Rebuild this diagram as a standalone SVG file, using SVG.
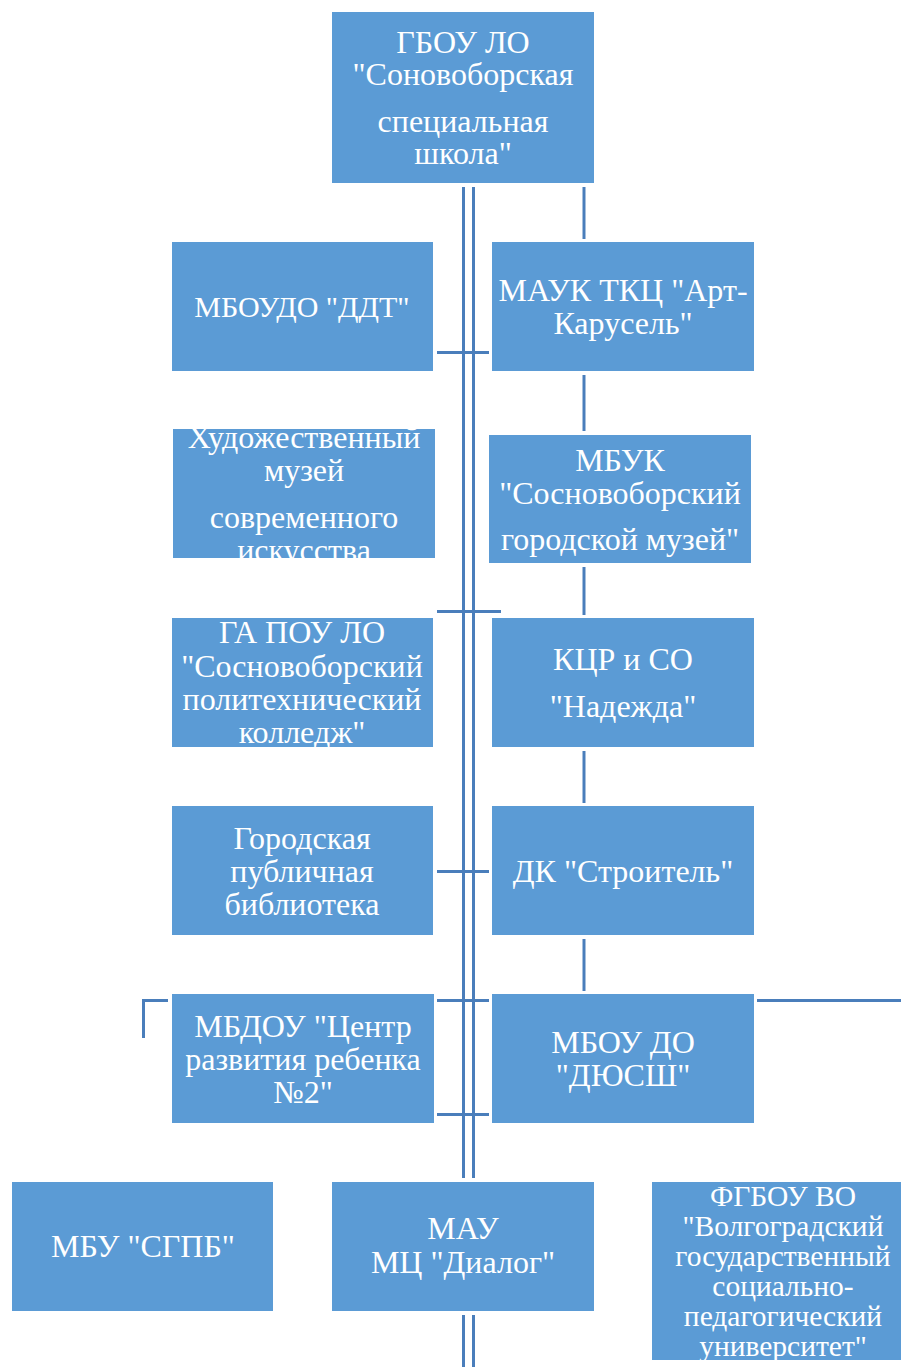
<svg xmlns="http://www.w3.org/2000/svg" width="901" height="1367" viewBox="0 0 901 1367">
<style>
.box{fill:#5B9BD5;}
.t{font-family:'Liberation Serif','DejaVu Serif',serif;font-size:32px;fill:#ffffff;text-anchor:middle;}
.m{font-size:30px;}
.s{font-size:29.5px;}
.ln{stroke:#4A7EBB;stroke-width:3;fill:none;}
</style>
<rect width="901" height="1367" fill="#ffffff"/>
<g id="connectors">
<line class="ln" x1="463.5" y1="187" x2="463.5" y2="1178"/>
<line class="ln" x1="473.5" y1="187" x2="473.5" y2="1178"/>
<line class="ln" x1="463.5" y1="1315" x2="463.5" y2="1367"/>
<line class="ln" x1="473.5" y1="1315" x2="473.5" y2="1367"/>
<line class="ln" x1="584" y1="187" x2="584" y2="239"/>
<line class="ln" x1="584" y1="375" x2="584" y2="431"/>
<line class="ln" x1="584" y1="567" x2="584" y2="615"/>
<line class="ln" x1="584" y1="751" x2="584" y2="803"/>
<line class="ln" x1="584" y1="939" x2="584" y2="991"/>
<line class="ln" x1="437" y1="352.5" x2="489" y2="352.5"/>
<line class="ln" x1="437" y1="611.5" x2="501" y2="611.5"/>
<line class="ln" x1="437" y1="871.5" x2="489" y2="871.5"/>
<line class="ln" x1="437" y1="1000.5" x2="489" y2="1000.5"/>
<line class="ln" x1="437" y1="1114.5" x2="489" y2="1114.5"/>
<polyline class="ln" points="143.5,1038 143.5,1000.5 168,1000.5"/>
<line class="ln" x1="757" y1="1000.5" x2="901" y2="1000.5"/>
</g>
<g id="n1"><rect class="box" x="332" y="12" width="262" height="171"/>
<text class="t" x="463" y="53">ГБОУ ЛО</text><text class="t" x="463" y="85">"Соновоборская</text><text class="t" x="463" y="132">специальная</text><text class="t" x="463" y="164">школа"</text></g>
<g id="n2"><rect class="box" x="172" y="242" width="261" height="129"/>
<text class="t m" x="302" y="317">МБОУДО "ДДТ"</text></g>
<g id="n3"><rect class="box" x="492" y="242" width="262" height="129"/>
<text class="t" x="623" y="301">МАУК ТКЦ "Арт-</text><text class="t" x="623" y="334">Карусель"</text></g>
<g id="n4"><rect class="box" x="173" y="429" width="262" height="129"/>
<text class="t" x="304" y="448">Художественный</text><text class="t" x="304" y="481">музей</text><text class="t" x="304" y="528">современного</text><text class="t" x="304" y="561">искусства</text></g>
<g id="n5"><rect class="box" x="489" y="435" width="262" height="128"/>
<text class="t" x="620" y="471">МБУК</text><text class="t" x="620" y="504">"Сосновоборский</text><text class="t" x="620" y="550">городской музей"</text></g>
<g id="n6"><rect class="box" x="172" y="618" width="261" height="129"/>
<text class="t" x="302" y="643">ГА ПОУ ЛО</text><text class="t" x="302" y="677">"Сосновоборский</text><text class="t" x="302" y="710">политехнический</text><text class="t" x="302" y="743">колледж"</text></g>
<g id="n7"><rect class="box" x="492" y="618" width="262" height="129"/>
<text class="t" x="623" y="670">КЦР и СО</text><text class="t" x="623" y="717">"Надежда"</text></g>
<g id="n8"><rect class="box" x="172" y="806" width="261" height="129"/>
<text class="t" x="302" y="849">Городская</text><text class="t" x="302" y="882">публичная</text><text class="t" x="302" y="915">библиотека</text></g>
<g id="n9"><rect class="box" x="492" y="806" width="262" height="129"/>
<text class="t" x="623" y="882">ДК "Строитель"</text></g>
<g id="n10"><rect class="box" x="172" y="994" width="262" height="129"/>
<text class="t" x="303" y="1037">МБДОУ "Центр</text><text class="t" x="303" y="1070">развития ребенка</text><text class="t" x="303" y="1103">№2"</text></g>
<g id="n11"><rect class="box" x="492" y="994" width="262" height="129"/>
<text class="t" x="623" y="1053">МБОУ ДО</text><text class="t" x="623" y="1086">"ДЮСШ"</text></g>
<g id="n12"><rect class="box" x="12" y="1182" width="261" height="129"/>
<text class="t" x="143" y="1257">МБУ "СГПБ"</text></g>
<g id="n13"><rect class="box" x="332" y="1182" width="262" height="129"/>
<text class="t" x="463" y="1239">МАУ</text><text class="t" x="463" y="1273">МЦ "Диалог"</text></g>
<g id="n14"><rect class="box" x="652" y="1182" width="249" height="178"/>
<text class="t s" x="783" y="1206">ФГБОУ ВО</text><text class="t s" x="783" y="1236">"Волгоградский</text><text class="t s" x="783" y="1266">государственный</text><text class="t s" x="783" y="1296">социально-</text><text class="t s" x="783" y="1326">педагогический</text><text class="t s" x="783" y="1356">университет"</text></g>
</svg>
